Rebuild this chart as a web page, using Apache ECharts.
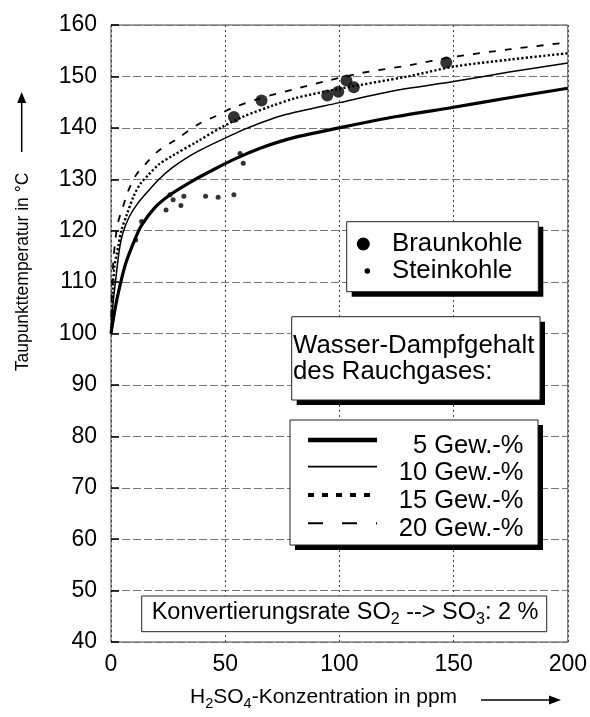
<!DOCTYPE html>
<html><head><meta charset="utf-8">
<script src="https://cdn.jsdelivr.net/npm/echarts@6/dist/echarts.min.js"></script>
<style>html,body{margin:0;padding:0;background:#fff}#c{width:590px;height:717px}</style>
</head><body><div id="c"></div>
<script>
// Axis ranges
const xMin = 0, xMax = 200, xStep = 50;
const yMin = 40, yMax = 160, yStep = 10;

// Curves: dew point vs H2SO4 concentration for water vapour contents
const c5x  = [0, 2.2, 4.5, 6.5, 10.2, 13.2, 19, 25.6, 35, 45, 55, 65, 80, 100, 125, 150, 175, 200];
const c5y  = [100, 105.8, 110.4, 113.7, 118, 120.9, 124.4, 126.9, 129.5, 131.9, 134.1, 136, 138.1, 140, 142.2, 144, 145.9, 147.7];
const c10x = [0, 0.7, 2.2, 3.6, 5.1, 8, 11.7, 16.1, 21, 27, 34, 41, 50, 60, 75, 100, 125, 150, 175, 200];
const c10y = [100, 105, 111, 116.1, 119.4, 122.7, 125.3, 127.6, 130, 132.3, 134.4, 136.1, 138, 140, 142.4, 144.9, 147.3, 149, 150.9, 152.6];
const c15x = [0, 0.3, 0.8, 1.5, 2.5, 3.2, 4.5, 7, 10, 13, 16.5, 21, 27, 38, 48, 58, 70, 81, 100, 130, 150, 175, 200];
const c15y = [100, 102, 108.5, 113, 115.5, 117, 120, 123.2, 126.8, 129.2, 130.9, 132.9, 134.6, 137.4, 140, 142.2, 144.2, 145.8, 147.6, 150, 151.9, 153.3, 154.5];
const c20x = [0, 0.4, 1, 2, 3, 5.1, 7.4, 11.1, 15.4, 20.4, 28, 39, 45.5, 52.8, 65, 80, 96, 110, 131, 150, 175, 200];
const c20y = [100, 108, 114, 118.5, 121.5, 124.4, 127.6, 130.9, 133.1, 135.4, 137.6, 140.9, 142.2, 143.8, 145.7, 147.5, 149.3, 150.7, 152.2, 153.8, 155.3, 156.6];

// Measured points
const braunX = [53.8, 65.9, 94.7, 99.5, 103.1, 106.3, 146.8];
const braunY = [142.1, 145.3, 146.3, 147.0, 149.2, 147.9, 152.7];
const steinX = [10.8, 13.4, 24.1, 25.8, 27.2, 30.6, 31.9, 41.4, 46.9, 53.8, 56.5, 57.9];
const steinY = [118.2, 121.8, 124.0, 127.0, 126.0, 124.9, 126.7, 126.7, 126.5, 127.0, 135.0, 133.1];

const curveNames = ['5 Gew.-%', '10 Gew.-%', '15 Gew.-%', '20 Gew.-%'];
const pointNames = ['Braunkohle', 'Steinkohle'];

const FONT = '"Liberation Sans", Arial, Helvetica, sans-serif';
const zip = (xs, ys) => xs.map((x, i) => [x, ys[i]]);

const curveStyles = [
  {width: 3.2, type: 'solid'},
  {width: 1.5, type: 'solid'},
  {width: 2.4, type: [2.2, 2.2]},
  {width: 1.8, type: [7, 9]}
];
const curveData = [zip(c5x, c5y), zip(c10x, c10y), zip(c15x, c15y), zip(c20x, c20y)];

const series = curveData.map((d, i) => ({
  name: curveNames[i], type: 'line', data: d, showSymbol: false,
  smooth: 0.3, z: 3,
  lineStyle: {color: '#000', width: curveStyles[i].width, type: curveStyles[i].type}
}));
series.push({name: pointNames[0], type: 'scatter', data: zip(braunX, braunY), symbolSize: 12, itemStyle: {color: '#000'}, z: 5});
series.push({name: pointNames[1], type: 'scatter', data: zip(steinX, steinY), symbolSize: 5, itemStyle: {color: '#000'}, z: 5});

function box(x, y, w, h, shadow) {
  const els = [];
  if (shadow) els.push({type: 'rect', z: 100, shape: {x: x + 5, y: y + 5, width: w, height: h}, style: {fill: '#000'}});
  els.push({type: 'rect', z: 101, shape: {x: x, y: y, width: w, height: h}, style: {fill: '#fff', stroke: '#222', lineWidth: 1}});
  return els;
}
function txt(x, y, text, size, align, extra) {
  return {type: 'text', z: 102, x: x, y: y,
    style: Object.assign({text: text, x: 0, y: 0, fill: '#000', fontSize: size, fontFamily: FONT,
      align: align || 'left', verticalAlign: 'middle', textAlign: align || 'left', textVerticalAlign: 'middle'}, extra || {})};
}

const graphics = [];
// legend 1: point types
graphics.push(...box(346.7, 221.7, 191.6, 70, true));
graphics.push({type: 'circle', z: 102, shape: {cx: 363.3, cy: 244, r: 6.5}, style: {fill: '#000'}});
graphics.push({type: 'circle', z: 102, shape: {cx: 367.3, cy: 271, r: 2.8}, style: {fill: '#000'}});
graphics.push(txt(392, 243.5, pointNames[0], 25.8));
graphics.push(txt(392, 270.5, pointNames[1], 25.8));
// legend 2: heading
graphics.push(...box(291.7, 316.7, 248.3, 83.3, true));
graphics.push(txt(293, 346, 'Wasser-Dampfgehalt', 25.8));
graphics.push(txt(293, 371.5, 'des Rauchgases:', 25.8));
// legend 3: curve styles
graphics.push(...box(290, 420, 248, 125, true));
const legLineY = [440, 466.7, 495, 523.3];
const legDash = [null, null, [6, 8], [15, 19]];
const legWidth = [4.5, 1.8, 4, 2];
curveNames.forEach((n, i) => {
  graphics.push({type: 'line', z: 102, shape: {x1: 308, y1: legLineY[i], x2: 377, y2: legLineY[i]},
    style: {stroke: '#000', lineWidth: legWidth[i], lineDash: legDash[i]}});
  graphics.push(txt(523.5, legLineY[i] + 6, n, 25.5, 'right'));
});
// conversion rate box
graphics.push(...box(141.7, 596, 405, 35.7, false));
graphics.push(txt(151.7, 613.5, '{a|Konvertierungsrate SO}{s|2}{a| --> SO}{s|3}{a|: 2 %}', 23.5, 'left', {
  rich: {
    a: {fontSize: 23.5, fontFamily: FONT, lineHeight: 28, verticalAlign: 'bottom', fill: '#000', padding: [0, 0, 3, 0]},
    s: {fontSize: 16, fontFamily: FONT, lineHeight: 15, verticalAlign: 'bottom', fill: '#000'}
  }
}));
// x axis title and arrow
graphics.push(txt(190, 698, '{a|H}{s|2}{a|SO}{s|4}{a|-Konzentration in ppm}', 21, 'left', {
  rich: {
    a: {fontSize: 21, fontFamily: FONT, lineHeight: 26, verticalAlign: 'bottom', fill: '#000', padding: [0, 0, 3, 0]},
    s: {fontSize: 14.5, fontFamily: FONT, lineHeight: 13, verticalAlign: 'bottom', fill: '#000'}
  }
}));
graphics.push({type: 'line', z: 102, shape: {x1: 481, y1: 700, x2: 552, y2: 700}, style: {stroke: '#000', lineWidth: 1.6}});
graphics.push({type: 'polygon', z: 102, shape: {points: [[561, 700], [549, 695.5], [549, 704.5]]}, style: {fill: '#000'}});
// y axis title and arrow
const yTitle = txt(23.5, 272, 'Taupunkttemperatur in °C', 17.5, 'center');
yTitle.rotation = Math.PI / 2;
graphics.push(yTitle);
graphics.push({type: 'line', z: 102, shape: {x1: 21.7, y1: 152, x2: 21.7, y2: 101}, style: {stroke: '#000', lineWidth: 1.5}});
graphics.push({type: 'polygon', z: 102, shape: {points: [[21.7, 92], [17.2, 103], [26.2, 103]]}, style: {fill: '#000'}});

const option = {
  backgroundColor: '#fff',
  animation: false,
  textStyle: {fontFamily: FONT},
  grid: {left: 111, right: 22, top: 25, bottom: 75, show: true, borderColor: '#444', borderWidth: 1},
  xAxis: {
    type: 'value', min: xMin, max: xMax, interval: xStep,
    axisLine: {show: false}, axisTick: {show: false},
    axisLabel: {fontSize: 23, color: '#000', margin: 11, fontFamily: FONT},
    splitLine: {show: true, lineStyle: {color: '#444', width: 1, type: [2, 3]}}
  },
  yAxis: {
    type: 'value', min: yMin, max: yMax, interval: yStep,
    axisLine: {show: false},
    axisTick: {show: true, inside: true, length: 8, lineStyle: {color: '#000', width: 1.5}},
    axisLabel: {fontSize: 23, color: '#000', margin: 14, fontFamily: FONT},
    splitLine: {show: true, lineStyle: {color: '#777', width: 1, type: [8, 3]}}
  },
  series: series,
  graphic: graphics
};
echarts.init(document.getElementById('c')).setOption(option);
</script>
</body></html>
